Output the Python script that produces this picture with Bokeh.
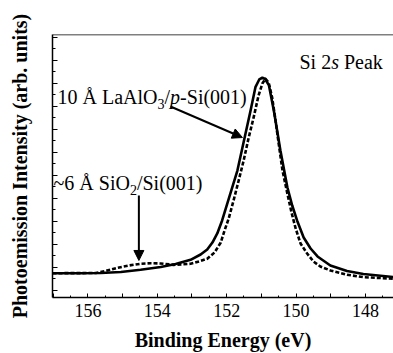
from bokeh.plotting import figure
from bokeh.models import Range1d, FixedTicker, Label, Arrow, NormalHead, Span, CustomJSTickFormatter
from bokeh.embed import file_html
from bokeh.resources import INLINE

# Binding energy (eV) and intensity (arb. units)
lao_energy = [157.02, 156.20, 155.63, 155.05, 154.48, 153.90, 153.47, 153.04, 152.75, 152.56,
              152.41, 152.27, 152.13, 151.98, 151.69, 151.50, 151.31, 151.17, 151.06, 150.97,
              150.89, 150.78, 150.64, 150.45, 150.25, 150.11, 149.97, 149.78, 149.58, 149.38,
              149.01, 148.53, 148.06, 147.19]
lao_intensity = [0.150, 0.150, 0.152, 0.161, 0.180, 0.204, 0.230, 0.267, 0.313, 0.357,
                 0.417, 0.496, 0.609, 0.757, 1.043, 1.304, 1.565, 1.768, 1.835, 1.850,
                 1.839, 1.783, 1.565, 1.217, 0.898, 0.739, 0.609, 0.461, 0.365, 0.296,
                 0.217, 0.170, 0.143, 0.117]

sio2_energy = [157.02, 155.77, 155.48, 155.15, 154.82, 154.48, 154.19, 153.90, 153.53, 153.04,
               152.75, 152.56, 152.35, 152.17, 152.06, 151.94, 151.80, 151.66, 151.51, 151.37,
               151.22, 151.08, 150.97, 150.88, 150.79, 150.69, 150.59, 150.50, 150.39, 150.25,
               150.13, 150.01, 149.87, 149.68, 149.50, 149.30, 149.01, 148.53, 148.06, 147.19]
sio2_intensity = [0.150, 0.152, 0.170, 0.197, 0.217, 0.232, 0.237, 0.235, 0.223, 0.232,
                  0.257, 0.276, 0.330, 0.417, 0.522, 0.626, 0.783, 0.948, 1.130, 1.322,
                  1.507, 1.696, 1.800, 1.841, 1.809, 1.681, 1.478, 1.278, 1.043, 0.843,
                  0.678, 0.539, 0.409, 0.322, 0.252, 0.209, 0.174, 0.137, 0.116, 0.102]

x_major_ticks = [148, 149, 150, 151, 152, 153, 154, 155, 156, 157]
x_minor_ticks = [147.5, 148.5, 149.5, 150.5, 151.5, 152.5, 153.5, 154.5, 155.5, 156.5]
y_major_ticks = [0.0, 0.2, 0.4, 0.6, 0.8, 1.0, 1.2, 1.4, 1.6, 1.8, 2.0, 2.2]
y_minor_ticks = [0.1, 0.3, 0.5, 0.7, 0.9, 1.1, 1.3, 1.5, 1.7, 1.9, 2.1]

FONT = "Liberation Serif"

p = figure(width=393, height=353, output_backend="svg", toolbar_location=None,
           x_range=Range1d(157.02, 147.19), y_range=Range1d(-0.061, 2.226),
           min_border_left=52, min_border_right=0, min_border_top=34, min_border_bottom=56)
p.background_fill_color = "white"
p.border_fill_color = "white"
p.outline_line_color = None
p.xgrid.visible = False
p.ygrid.visible = False

p.line(lao_energy, lao_intensity, line_color="black", line_width=2.6, line_join="round")
p.line(sio2_energy, sio2_intensity, line_color="black", line_width=2.6, line_dash="4 2",
       line_join="round")

# top border
p.add_layout(Span(location=2.226, dimension="width", line_color="black", line_width=1.5))

# x axis
xa = p.xaxis[0]
xa.ticker = FixedTicker(ticks=x_major_ticks, minor_ticks=x_minor_ticks)
xa.formatter = CustomJSTickFormatter(code="return (Math.round(tick) % 2 == 0) ? tick.toFixed(0) : '';")
xa.major_tick_in = 4
xa.major_tick_out = 0
xa.minor_tick_in = 2
xa.minor_tick_out = 0
xa.axis_line_width = 1.5
xa.major_label_text_font = FONT
xa.major_label_text_font_size = "18px"
xa.major_label_text_color = "black"
xa.major_label_standoff = 6
xa.axis_label = "Binding Energy (eV)"
xa.axis_label_text_font = FONT
xa.axis_label_text_font_size = "20px"
xa.axis_label_text_font_style = "bold"
xa.axis_label_text_color = "black"
xa.axis_label_standoff = 9

# y axis
ya = p.yaxis[0]
ya.ticker = FixedTicker(ticks=y_major_ticks, minor_ticks=y_minor_ticks)
ya.formatter = CustomJSTickFormatter(code="return '';")
ya.major_tick_in = 5
ya.major_tick_out = 0
ya.minor_tick_in = 3
ya.minor_tick_out = 0
ya.axis_line_width = 1.5
ya.major_label_standoff = 0
ya.axis_label = "Photoemission Intensity (arb. units)"
ya.axis_label_text_font = FONT
ya.axis_label_text_font_size = "20px"
ya.axis_label_text_font_style = "bold"
ya.axis_label_text_color = "black"
ya.axis_label_standoff = 22

def piece(x, y, txt, dx, dy=0, size="20px", style="normal"):
    p.add_layout(Label(x=x, y=y, text=txt, x_offset=dx, y_offset=dy, text_font=FONT,
                       text_font_size=size, text_font_style=style, text_color="black",
                       text_baseline="alphabetic", text_align="left"))

# "10 Å LaAlO3/p-Si(001)"
l1x, l1y = 156.876, 1.685
piece(l1x, l1y, "10 Å LaAlO", 0)
piece(l1x, l1y, "3", 100, -7, size="14px")
piece(l1x, l1y, "/", 107)
piece(l1x, l1y, "p", 112.6, style="italic")
piece(l1x, l1y, "-Si(001)", 122.6)

# "~6 Å SiO2/Si(001)"
l2x, l2y = 156.99, 0.935
piece(l2x, l2y, "~6 Å SiO", 0)
piece(l2x, l2y, "2", 76.4, -7, size="14px")
piece(l2x, l2y, "/Si(001)", 83.4)

# "Si 2s Peak"
l3x, l3y = 149.90, 1.983
piece(l3x, l3y, "Si 2", 0)
piece(l3x, l3y, "s", 31.7, style="italic")
piece(l3x, l3y, "Peak", 44.5)

p.add_layout(Arrow(end=NormalHead(size=10, fill_color="black", line_color="black"),
                   x_start=153.62, y_start=1.600, x_end=151.545, y_end=1.330,
                   line_color="black", line_width=2))
p.add_layout(Arrow(end=NormalHead(size=10, fill_color="black", line_color="black"),
                   x_start=154.53, y_start=0.826, x_end=154.53, y_end=0.261,
                   line_color="black", line_width=2))

open("out.html", "w").write(file_html(p, INLINE))
